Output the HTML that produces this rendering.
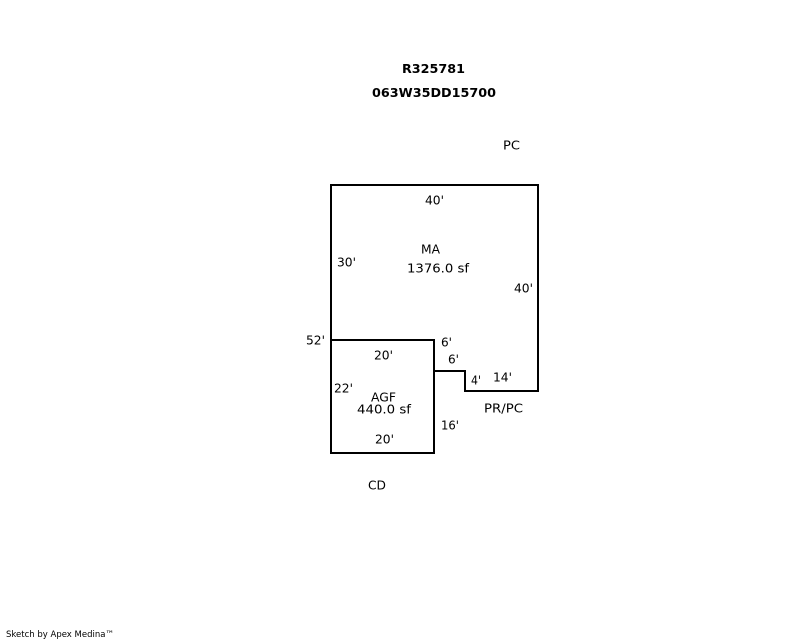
<!DOCTYPE html>
<html><head><meta charset="utf-8"><style>
html,body{margin:0;padding:0;background:#fff}
svg{display:block}
text{font-family:"DejaVu Sans","Liberation Sans",sans-serif;font-size:12px;fill:#000}
.b{font-weight:bold;font-size:12px}
.s{font-size:9px}
</style></head><body>
<svg width="800" height="640" viewBox="0 0 800 640" xmlns="http://www.w3.org/2000/svg">
<g fill="none" stroke="#000" stroke-width="2" shape-rendering="crispEdges">
<path d="M331 340V185H538V391H465V371H434"/>
<rect x="331" y="340" width="103" height="113"/>
</g>
<text class="b" x="402" y="73" textLength="63" lengthAdjust="spacingAndGlyphs">R325781</text>
<text class="b" x="372" y="97" textLength="124" lengthAdjust="spacingAndGlyphs">063W35DD15700</text>
<text x="503" y="149.5" textLength="17" lengthAdjust="spacingAndGlyphs">PC</text>
<text x="425" y="204.5" textLength="19" lengthAdjust="spacingAndGlyphs">40'</text>
<text x="421" y="253.5" textLength="19" lengthAdjust="spacingAndGlyphs">MA</text>
<text x="407" y="272.5" textLength="62" lengthAdjust="spacingAndGlyphs">1376.0 sf</text>
<text x="337" y="266.5" textLength="19" lengthAdjust="spacingAndGlyphs">30'</text>
<text x="514" y="292.5" textLength="19" lengthAdjust="spacingAndGlyphs">40'</text>
<text x="306" y="344.5" textLength="19" lengthAdjust="spacingAndGlyphs">52'</text>
<text x="441" y="346.5" textLength="11" lengthAdjust="spacingAndGlyphs">6'</text>
<text x="374" y="359.5" textLength="19" lengthAdjust="spacingAndGlyphs">20'</text>
<text x="448" y="363.5" textLength="11" lengthAdjust="spacingAndGlyphs">6'</text>
<text x="471" y="384.5" textLength="10" lengthAdjust="spacingAndGlyphs">4'</text>
<text x="493" y="381.5" textLength="19" lengthAdjust="spacingAndGlyphs">14'</text>
<text x="334" y="392.5" textLength="19" lengthAdjust="spacingAndGlyphs">22'</text>
<text x="371" y="401.5" textLength="25" lengthAdjust="spacingAndGlyphs">AGF</text>
<text x="357" y="413.5" textLength="54" lengthAdjust="spacingAndGlyphs">440.0 sf</text>
<text x="484" y="412.5" textLength="39" lengthAdjust="spacingAndGlyphs">PR/PC</text>
<text x="441" y="429.5" textLength="18" lengthAdjust="spacingAndGlyphs">16'</text>
<text x="375" y="443.5" textLength="19" lengthAdjust="spacingAndGlyphs">20'</text>
<text x="368" y="489.5" textLength="18" lengthAdjust="spacingAndGlyphs">CD</text>
<text class="s" x="6" y="637" textLength="108" lengthAdjust="spacingAndGlyphs">Sketch by Apex Medina™</text>
</svg>
</body></html>
